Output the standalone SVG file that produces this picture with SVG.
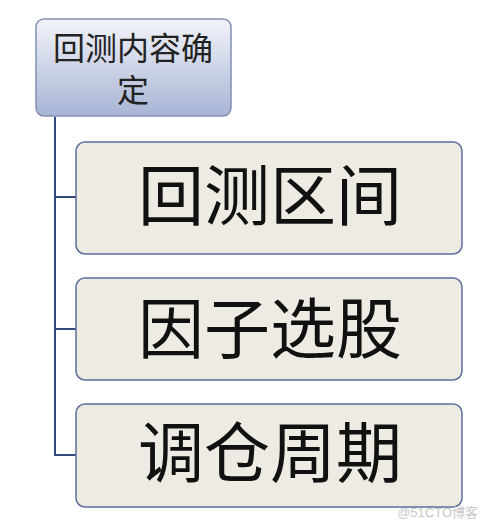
<svg xmlns="http://www.w3.org/2000/svg" width="488" height="521" viewBox="0 0 488 521">
<defs>
<linearGradient id="g1" x1="0" y1="0" x2="0" y2="1">
<stop offset="0" stop-color="#f3f4fa"/>
<stop offset="1" stop-color="#a7b4d4"/>
</linearGradient>
</defs>
<style>
.box{fill:#eeebe3;stroke:#5b6f9b;stroke-width:1.5}
.top{fill:url(#g1);stroke:#8190b3;stroke-width:1.5}
.conn{fill:none;stroke:#2c4a7c;stroke-width:2}
.big{font-family:"Noto Sans CJK SC","Noto Sans CJK JP",sans-serif;font-size:66px;fill:#111;text-anchor:middle}
.small{font-family:"Noto Sans CJK SC","Noto Sans CJK JP",sans-serif;font-size:32px;fill:#222;text-anchor:middle}
</style>
<g id="connectors">
<path class="conn" d="M55 117 V455 H76"/>
<path class="conn" d="M55 197 H76"/>
<path class="conn" d="M55 329 H76"/>
</g>
<g id="root">
<rect class="top" x="36" y="19" width="195" height="97" rx="8"/>
<text class="small"><tspan x="133" y="60">回测内容确</tspan><tspan x="133" y="102">定</tspan></text>
</g>
<g id="n1">
<rect class="box" x="76" y="142" width="386" height="112" rx="9"/>
<text class="big" x="270" y="220">回测区间</text>
</g>
<g id="n2">
<rect class="box" x="76" y="278" width="386" height="102" rx="9"/>
<text class="big" x="270" y="353">因子选股</text>
</g>
<g id="n3">
<rect class="box" x="76" y="404" width="386" height="103" rx="9"/>
<text class="big" x="270" y="477">调仓周期</text>
</g>
<text x="478" y="517" font-family="'Liberation Sans','Noto Sans CJK SC',sans-serif" font-size="13" fill="#c8c8c8" text-anchor="end">@51CTO博客</text>
</svg>
